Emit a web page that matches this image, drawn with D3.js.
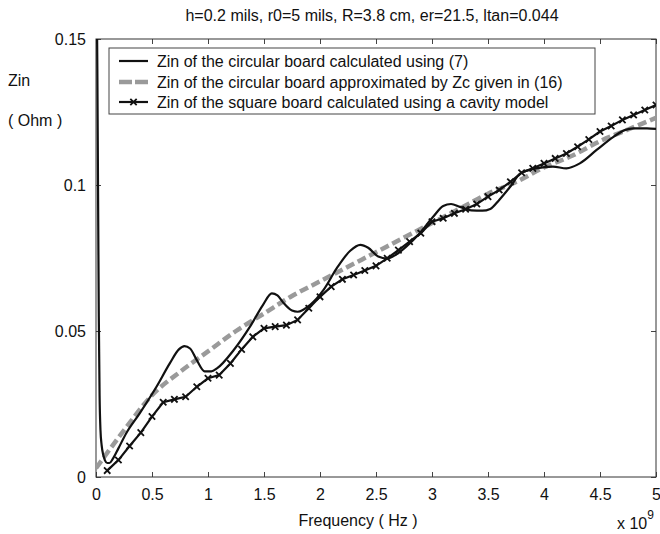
<!DOCTYPE html>
<html>
<head>
<meta charset="utf-8">
<script src="https://cdn.jsdelivr.net/npm/d3@7"></script>
<style>
  body { margin: 0; background: #fff; }
  text { font-family: "Liberation Sans", Arial, sans-serif; fill: #111; }
</style>
</head>
<body>
<div id="chart"></div>
<script>
// frequency in units of 1e9 Hz, Zin in Ohm
var xTicks = [0, 0.5, 1, 1.5, 2, 2.5, 3, 3.5, 4, 4.5, 5];
var yTicks = [0, 0.05, 0.1, 0.15];

var legendLabels = [
  "Zin of the circular board calculated using (7)",
  "Zin of the circular board approximated by Zc given in (16)",
  "Zin of the square board calculated using a cavity model"
];

// circular board, eq. (7)
var circFreq = [0.008, 0.012, 0.018, 0.025, 0.032, 0.04, 0.05, 0.065, 0.08, 0.1, 0.12, 0.15, 0.2, 0.27, 0.39,
  0.54, 0.66, 0.74, 0.79, 0.84, 0.9, 0.97, 1.03, 1.08, 1.23, 1.375, 1.49, 1.57, 1.62, 1.67, 1.75, 1.8,
  1.91, 2.03, 2.15, 2.27, 2.36, 2.43, 2.52, 2.6, 2.68, 2.77, 2.89, 3.01, 3.1, 3.17, 3.25, 3.35, 3.45,
  3.52, 3.6, 3.7, 3.79, 3.93, 4.08, 4.2, 4.32, 4.47, 4.62, 4.72, 4.8, 4.92, 5.0];
var circZin = [0.16, 0.14, 0.1, 0.055, 0.028, 0.016, 0.011, 0.0075, 0.0057, 0.0048, 0.0048, 0.0062, 0.0098, 0.015, 0.0218,
  0.0309, 0.039, 0.0437, 0.0448, 0.044, 0.04, 0.0362, 0.0362, 0.0372, 0.0435, 0.0515, 0.0589, 0.0629, 0.0622, 0.0598, 0.057, 0.0566,
  0.0589, 0.064, 0.0715, 0.0775, 0.0795, 0.0785, 0.0755, 0.0748, 0.0762, 0.0789, 0.0835, 0.0891, 0.0928, 0.0935, 0.0925, 0.0913, 0.0912,
  0.0918, 0.0949, 0.0995, 0.104, 0.1057, 0.1063, 0.1057, 0.1074, 0.112, 0.1165, 0.1188, 0.1194, 0.1194, 0.1192];

// circular board, Zc approximation (16)
var zcFreq = [0, 0.25, 0.5, 0.75, 1, 1.25, 1.5, 1.75, 2, 2.25, 2.5, 2.75, 3, 3.25, 3.5, 3.75, 4, 4.25, 4.5, 4.75, 5];
var zcZin = [0.003, 0.016, 0.028, 0.036, 0.043, 0.05, 0.056, 0.062, 0.067, 0.072, 0.077, 0.082, 0.087, 0.092, 0.097,
  0.101, 0.106, 0.11, 0.115, 0.119, 0.123];

// square board, cavity model (one marker every 0.1e9 Hz)
var sqFreq = [0.1, 0.2, 0.3, 0.4, 0.5, 0.6, 0.7, 0.8, 0.9, 1.0, 1.1, 1.2, 1.3, 1.4, 1.5, 1.6, 1.7, 1.8, 1.9, 2.0,
  2.1, 2.2, 2.3, 2.4, 2.5, 2.6, 2.7, 2.8, 2.9, 3.0, 3.1, 3.2, 3.3, 3.4, 3.5, 3.6, 3.7, 3.8, 3.9, 4.0,
  4.1, 4.2, 4.3, 4.4, 4.5, 4.6, 4.7, 4.8, 4.9, 5.0];
var sqZin = [0.0022, 0.0058, 0.0106, 0.0152, 0.0207, 0.0256, 0.0266, 0.0275, 0.0309, 0.0338, 0.0349, 0.0389, 0.0437, 0.048, 0.0509, 0.0515, 0.052, 0.0538, 0.0578, 0.0617,
  0.0652, 0.0677, 0.0692, 0.0707, 0.0723, 0.0749, 0.0777, 0.0806, 0.0835, 0.0874, 0.0886, 0.0903, 0.0917, 0.0935, 0.096, 0.0983, 0.1011, 0.1042, 0.1057, 0.1074,
  0.1091, 0.1108, 0.1131, 0.1156, 0.1183, 0.1202, 0.1223, 0.124, 0.1257, 0.1274];

var svgWidth = 660, svgHeight = 534;
var margin = { top: 39, right: 4, bottom: 57, left: 96 };
var width = svgWidth - margin.left - margin.right;   // 560
var height = svgHeight - margin.top - margin.bottom; // 438

var svg = d3.select("#chart").append("svg")
  .attr("width", svgWidth)
  .attr("height", svgHeight);

svg.append("defs").append("clipPath").attr("id", "plotclip")
  .append("rect").attr("width", width).attr("height", height);

var g = svg.append("g").attr("transform", `translate(${margin.left}, ${margin.top})`);

var x = d3.scaleLinear().domain([0, 5]).range([0, width]);
var y = d3.scaleLinear().domain([0, 0.15]).range([height, 0]);

// ticks inward on all four sides, matlab style
var fmt = function(d) { return String(d); };
g.append("g").attr("transform", `translate(0, ${height})`)
  .call(d3.axisBottom(x).tickValues(xTicks).tickFormat(fmt).tickSizeInner(-5).tickSizeOuter(0).tickPadding(12));
g.append("g")
  .call(d3.axisTop(x).tickValues(xTicks).tickFormat("").tickSizeInner(-5).tickSizeOuter(0));
g.append("g")
  .call(d3.axisLeft(y).tickValues(yTicks).tickFormat(fmt).tickSizeInner(-5).tickSizeOuter(0).tickPadding(10));
g.append("g").attr("transform", `translate(${width}, 0)`)
  .call(d3.axisRight(y).tickValues(yTicks).tickFormat("").tickSizeInner(-5).tickSizeOuter(0));

g.selectAll(".domain").remove();
g.selectAll(".tick line").attr("stroke", "#444");
g.selectAll(".tick text").attr("font-size", "16px").attr("fill", "#111");

g.append("rect")
  .attr("width", width).attr("height", height)
  .attr("fill", "none").attr("stroke", "#333").attr("stroke-width", 1);

var plot = g.append("g").attr("clip-path", "url(#plotclip)");

var zcData = zcFreq.map((f, i) => [f, zcZin[i]]);
var circData = circFreq.map((f, i) => [f, circZin[i]]);
var sqData = sqFreq.map((f, i) => [f, sqZin[i]]);

var smooth = d3.line().x(d => x(d[0])).y(d => y(d[1])).curve(d3.curveMonotoneX);
var straight = d3.line().x(d => x(d[0])).y(d => y(d[1]));

plot.append("path").datum(zcData)
  .attr("d", smooth)
  .attr("fill", "none").attr("stroke", "#9a9a9a")
  .attr("stroke-width", 4.5).attr("stroke-dasharray", "9,4");

plot.append("path").datum(circData)
  .attr("d", smooth)
  .attr("fill", "none").attr("stroke", "#111").attr("stroke-width", 2.2);

plot.append("path").datum(sqData)
  .attr("d", straight)
  .attr("fill", "none").attr("stroke", "#111").attr("stroke-width", 2.2);

var cross = d3.symbol().type(d3.symbolX).size(28);
plot.selectAll(".mk").data(sqData).enter().append("path")
  .attr("class", "mk")
  .attr("transform", d => `translate(${x(d[0])}, ${y(d[1])})`)
  .attr("d", cross)
  .attr("fill", "none").attr("stroke", "#111").attr("stroke-width", 1.8);

// legend
var lg = svg.append("g").attr("transform", "translate(109, 48)");
lg.append("rect").attr("width", 486).attr("height", 66)
  .attr("fill", "#fff").attr("stroke", "#444").attr("stroke-width", 1);

var rowY = [13, 34, 54];
lg.append("line").attr("x1", 10).attr("x2", 39).attr("y1", rowY[0]).attr("y2", rowY[0])
  .attr("stroke", "#111").attr("stroke-width", 2.2);
lg.append("line").attr("x1", 10).attr("x2", 39).attr("y1", rowY[1]).attr("y2", rowY[1])
  .attr("stroke", "#9a9a9a").attr("stroke-width", 4.5).attr("stroke-dasharray", "13,3");
lg.append("line").attr("x1", 10).attr("x2", 39).attr("y1", rowY[2]).attr("y2", rowY[2])
  .attr("stroke", "#111").attr("stroke-width", 2.2);
lg.append("path").attr("transform", `translate(24.5, ${rowY[2]})`)
  .attr("d", cross).attr("fill", "none").attr("stroke", "#111").attr("stroke-width", 1.8);

lg.selectAll(".lt").data(legendLabels).enter().append("text")
  .attr("class", "lt")
  .attr("x", 48)
  .attr("y", (d, i) => rowY[i] + 6)
  .attr("font-size", "16px")
  .text(d => d);

// title and axis labels
svg.append("text")
  .attr("x", 372).attr("y", 21)
  .attr("text-anchor", "middle").attr("font-size", "16px")
  .text("h=0.2 mils, r0=5 mils, R=3.8 cm, er=21.5, ltan=0.044");

svg.append("text").attr("x", 8).attr("y", 86).attr("font-size", "16px").text("Zin");
svg.append("text").attr("x", 8).attr("y", 126).attr("font-size", "16px").text("( Ohm )");

svg.append("text")
  .attr("x", 358).attr("y", 526)
  .attr("text-anchor", "middle").attr("font-size", "16px")
  .text("Frequency ( Hz )");

var ex = svg.append("text").attr("x", 617).attr("y", 529).attr("font-size", "16px");
ex.append("tspan").text("x 10");
ex.append("tspan").attr("dy", -10).attr("font-size", "12px").text("9");
</script>
</body>
</html>
